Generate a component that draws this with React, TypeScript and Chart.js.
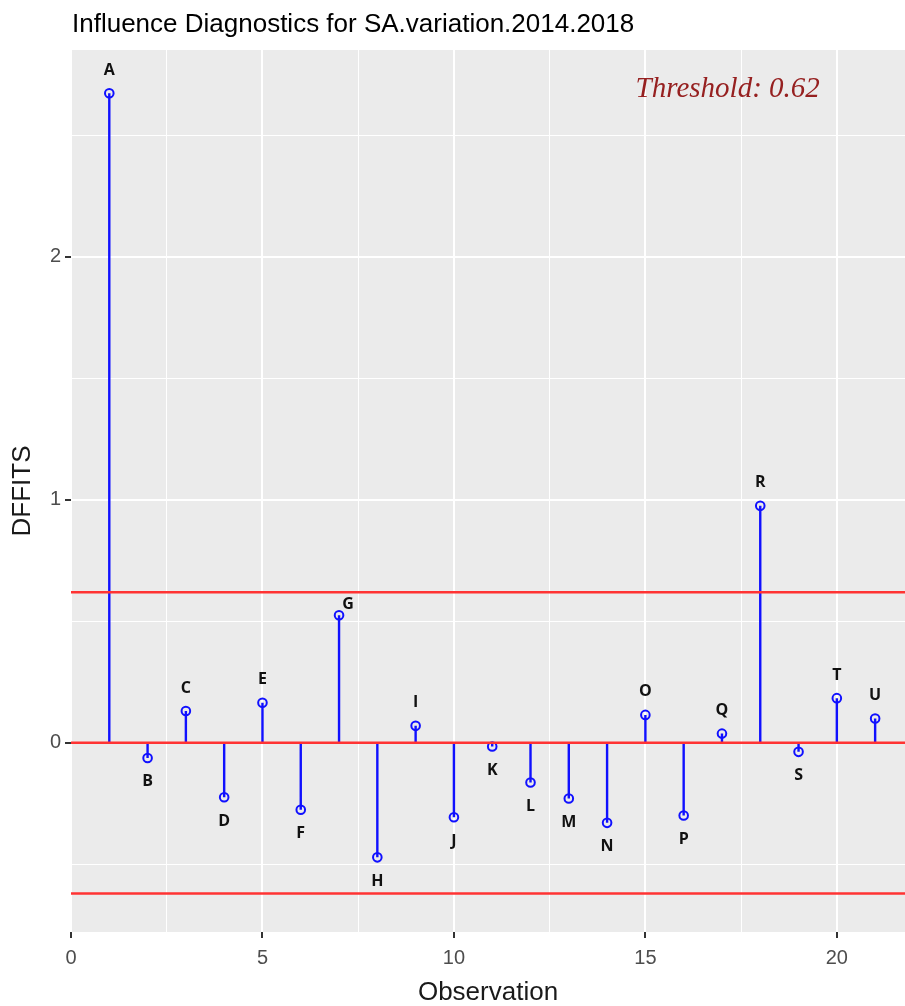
import React, { useEffect, useRef } from "react";
import { Chart, registerables } from "chart.js";

Chart.register(...registerables);

const observations = [1, 2, 3, 4, 5, 6, 7, 8, 9, 10, 11, 12, 13, 14, 15, 16, 17, 18, 19, 20, 21];
const pointLabels = ["A", "B", "C", "D", "E", "F", "G", "H", "I", "J", "K", "L", "M", "N", "O", "P", "Q", "R", "S", "T", "U"];
const dffits = [2.672, -0.062, 0.131, -0.224, 0.165, -0.275, 0.525, -0.471, 0.07, -0.306, -0.015, -0.163, -0.229, -0.329, 0.115, -0.299, 0.038, 0.975, -0.037, 0.184, 0.1];
const threshold = 0.62;
const thresholdText = "Threshold: 0.62";
const titleText = "Influence Diagnostics for SA.variation.2014.2018";
const xTicks = [0, 2.5, 5, 7.5, 10, 12.5, 15, 17.5, 20];
const yTicks = [-0.5, 0, 0.5, 1, 1.5, 2, 2.5];
const xRange = [0, 21.78];
const yRange = [-0.778, 2.85];
const thresholdTextPos = { x: 17.15, y: 2.656 };

export default function App() {
  const ref = useRef<HTMLCanvasElement | null>(null);

  useEffect(() => {
    document.body.style.margin = "0";
    const canvas = ref.current;
    if (!canvas) return;

    const stemData: any[] = [];
    observations.forEach((x, i) => {
      stemData.push({ x, y: 0 });
      stemData.push({ x, y: dffits[i] });
      stemData.push({ x, y: null });
    });
    const pointData = observations.map((x, i) => ({ x, y: dffits[i] }));
    const hline = (v: number) => [
      { x: xRange[0], y: v },
      { x: xRange[1], y: v },
    ];

    const bgPlugin = {
      id: "panelBg",
      beforeDraw(chart: any) {
        const { ctx, chartArea } = chart;
        ctx.save();
        ctx.fillStyle = "#EBEBEB";
        ctx.fillRect(chartArea.left, chartArea.top, chartArea.right - chartArea.left, chartArea.bottom - chartArea.top);
        ctx.restore();
      },
    };

    const textPlugin = {
      id: "texts",
      afterDatasetsDraw(chart: any) {
        const { ctx, scales } = chart;
        const xs = scales.x;
        const ys = scales.y;
        ctx.save();
        ctx.font = 'bold 16px "Open Sans"';
        ctx.fillStyle = "#111111";
        ctx.textAlign = "center";
        ctx.textBaseline = "middle";
        observations.forEach((x, i) => {
          const v = dffits[i];
          let px = xs.getPixelForValue(x);
          let py = ys.getPixelForValue(v);
          if (pointLabels[i] === "G") {
            px += 9;
            py -= 11;
          } else if (v >= 0) {
            py -= 23;
          } else {
            py += 24;
          }
          ctx.fillText(pointLabels[i], px, py);
        });
        ctx.font = 'italic 29px "Liberation Serif"';
        ctx.fillStyle = "#962020";
        ctx.textBaseline = "alphabetic";
        ctx.fillText(thresholdText, xs.getPixelForValue(thresholdTextPos.x), ys.getPixelForValue(thresholdTextPos.y));
        ctx.restore();
      },
      afterDraw(chart: any) {
        const { ctx } = chart;
        ctx.save();
        ctx.font = '26px "Liberation Sans"';
        ctx.fillStyle = "#000000";
        ctx.textAlign = "left";
        ctx.textBaseline = "alphabetic";
        ctx.fillText(titleText, 72, 32);
        ctx.restore();
      },
    };

    const isMajorX = (v: number) => Math.abs(v % 5) < 1e-9;
    const isMajorY = (v: number) => Math.abs(v % 1) < 1e-9;

    const chart = new Chart(canvas, {
      type: "scatter",
      data: {
        datasets: [
          {
            type: "line",
            data: hline(threshold),
            borderColor: "#FF3333",
            borderWidth: 2.5,
            pointRadius: 0,
            fill: false,
          },
          {
            type: "line",
            data: hline(0),
            borderColor: "#FF3333",
            borderWidth: 2.5,
            pointRadius: 0,
            fill: false,
          },
          {
            type: "line",
            data: hline(-threshold),
            borderColor: "#FF3333",
            borderWidth: 2.5,
            pointRadius: 0,
            fill: false,
          },
          {
            type: "scatter",
            data: pointData,
            pointStyle: "circle",
            pointRadius: 4.3,
            borderWidth: 2,
            borderColor: "#1010FF",
            backgroundColor: "rgba(0,0,0,0)",
          },
          {
            type: "line",
            data: stemData,
            borderColor: "#1010FF",
            borderWidth: 2.4,
            pointRadius: 0,
            spanGaps: false,
            fill: false,
          },
        ] as any,
      },
      options: {
        animation: false,
        responsive: false,
        layout: { autoPadding: false, padding: { top: 50, right: 0, left: 0, bottom: 0 } },
        plugins: {
          legend: { display: false },
          tooltip: { enabled: false },
          title: { display: false },
        },
        scales: {
          x: {
            type: "linear",
            min: xRange[0],
            max: xRange[1],
            afterBuildTicks: (scale: any) => {
              scale.ticks = xTicks.map((value) => ({ value }));
            },
            afterFit: (scale: any) => {
              scale.height = 74;
              scale.paddingLeft = 0;
              scale.paddingRight = 0;
            },
            border: { display: false },
            grid: {
              color: "#FFFFFF",
              lineWidth: (c: any) => (c.tick && isMajorX(c.tick.value) ? 2 : 1),
              tickColor: (c: any) => (c.tick && isMajorX(c.tick.value) ? "#333333" : "rgba(0,0,0,0)"),
              tickLength: 6,
              drawTicks: true,
            },
            ticks: {
              autoSkip: false,
              maxRotation: 0,
              padding: 8,
              color: "#4D4D4D",
              font: { family: '"Liberation Sans"', size: 20 },
              callback: (v: any) => (isMajorX(Number(v)) ? String(v) : ""),
            },
            title: {
              display: true,
              text: "Observation",
              color: "#1A1A1A",
              font: { family: '"Liberation Sans"', size: 26, lineHeight: 1 },
              padding: { top: 0, bottom: 0 },
            },
          },
          y: {
            type: "linear",
            min: yRange[0],
            max: yRange[1],
            afterBuildTicks: (scale: any) => {
              scale.ticks = yTicks.map((value) => ({ value }));
            },
            afterFit: (scale: any) => {
              scale.width = 71;
              scale.paddingTop = 0;
              scale.paddingBottom = 0;
            },
            border: { display: false },
            grid: {
              color: "#FFFFFF",
              lineWidth: (c: any) => (c.tick && isMajorY(c.tick.value) ? 2 : 1),
              tickColor: (c: any) => (c.tick && isMajorY(c.tick.value) ? "#333333" : "rgba(0,0,0,0)"),
              tickLength: 6,
              drawTicks: true,
            },
            ticks: {
              autoSkip: false,
              padding: 4,
              color: "#4D4D4D",
              font: { family: '"Liberation Sans"', size: 20 },
              callback: (v: any) => (isMajorY(Number(v)) ? String(v) : ""),
            },
            title: {
              display: true,
              text: "DFFITS",
              color: "#1A1A1A",
              font: { family: '"Liberation Sans"', size: 26, lineHeight: 1 },
              padding: { top: 10, bottom: 0 },
            },
          },
        },
      } as any,
      plugins: [bgPlugin, textPlugin],
    });

    return () => chart.destroy();
  }, []);

  return (
    <div style={{ width: 905, height: 1006 }}>
      <canvas ref={ref} width={905} height={1006} style={{ display: "block" }} />
    </div>
  );
}
